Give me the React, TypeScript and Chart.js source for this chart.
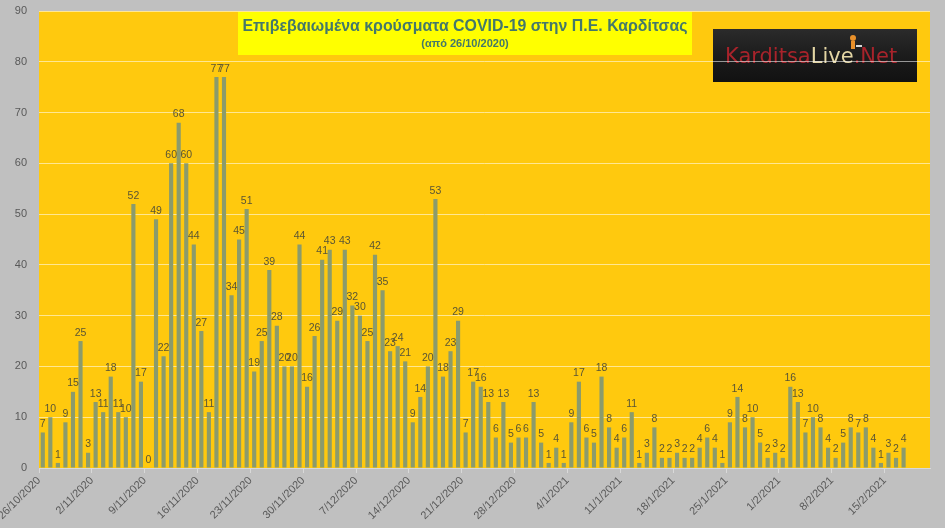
import { useEffect, useRef } from "react"
import { Chart, registerables } from "chart.js"
import type { Plugin } from "chart.js"

Chart.register(...registerables)

// daily confirmed cases, per month, starting 26/10/2020
const START_DATE = new Date(2020, 9, 26)
const CASES_OCT = [7, 10, 1, 9, 15, 25]
const CASES_NOV = [
  3, 13, 11, 18, 11, 10, 52, 17, 0, 49, 22, 60, 68, 60, 44,
  27, 11, 77, 77, 34, 45, 51, 19, 25, 39, 28, 20, 20, 44, 16,
]
const CASES_DEC = [
  26, 41, 43, 29, 43, 32, 30, 25, 42, 35, 23, 24, 21, 9, 14, 20,
  53, 18, 23, 29, 7, 17, 16, 13, 6, 13, 5, 6, 6, 13, 5,
]
const CASES_JAN = [
  1, 4, 1, 9, 17, 6, 5, 18, 8, 4, 6, 11, 1, 3, 8, 2,
  2, 3, 2, 2, 4, 6, 4, 1, 9, 14, 8, 10, 5, 2, 3,
]
const CASES_FEB = [2, 16, 13, 7, 10, 8, 4, 2, 5, 8, 7, 8, 4, 1, 3, 2, 4]
const EMPTY_DAYS_AT_END = 3
const LABEL_EVERY = 7

const TITLE = "Επιβεβαιωμένα κρούσματα COVID-19 στην Π.Ε. Καρδίτσας"
const SUBTITLE = "(από 26/10/2020)"

const CASES = [...CASES_OCT, ...CASES_NOV, ...CASES_DEC, ...CASES_JAN, ...CASES_FEB]
const DAY_LABELS = Array.from({ length: CASES.length + EMPTY_DAYS_AT_END }, (_, i) => {
  const d = new Date(START_DATE)
  d.setDate(d.getDate() + i)
  return `${d.getDate()}/${d.getMonth() + 1}/${d.getFullYear()}`
})

const FONT = "'Liberation Sans', Arial, sans-serif"
const TEXT = "#595959"

const backdrop: Plugin<"bar"> = {
  id: "backdrop",
  beforeDraw(chart) {
    const { ctx, chartArea: a, width, height } = chart
    ctx.save()
    ctx.fillStyle = "#c0c0c0"
    ctx.fillRect(0, 0, width, height)
    ctx.fillStyle = "#ffc90e"
    ctx.fillRect(a.left, a.top, a.right - a.left, a.bottom - a.top)

    // title box
    ctx.fillStyle = "#ffff00"
    ctx.fillRect(238, 12, 454, 43)
    ctx.fillStyle = "#44786a"
    ctx.textAlign = "center"
    ctx.textBaseline = "middle"
    ctx.font = `bold 17px ${FONT}`
    ctx.fillText(TITLE, 465, 26, 445)
    ctx.font = `bold 11px ${FONT}`
    ctx.fillText(SUBTITLE, 465, 44, 95)

    // logo
    const g = ctx.createLinearGradient(0, 29, 0, 82)
    g.addColorStop(0, "#2b2b2b")
    g.addColorStop(0.5, "#1c1c1c")
    g.addColorStop(1, "#111")
    ctx.fillStyle = g
    ctx.fillRect(713, 29, 204, 53)
    ctx.textAlign = "left"
    ctx.textBaseline = "alphabetic"
    ctx.font = "21px 'DejaVu Sans', sans-serif"
    let x = 725
    const parts: [string, string][] = [["Karditsa", "#a8232b"], ["Live", "#e4d6a4"], [".Net", "#a8232b"]]
    for (const [t, c] of parts) {
      ctx.fillStyle = c
      ctx.fillText(t, x, 63, 200)
      x += ctx.measureText(t).width
    }
    ctx.fillStyle = "#e8902a"
    ctx.beginPath()
    ctx.arc(853, 38, 3, 0, Math.PI * 2)
    ctx.fill()
    ctx.fillRect(851, 41, 4, 8)
    ctx.fillStyle = "#d8d8d8"
    ctx.fillRect(856, 45, 6, 2)
    ctx.restore()
  },
}

const valueLabels: Plugin<"bar"> = {
  id: "valueLabels",
  afterDatasetsDraw(chart) {
    const { ctx } = chart
    const meta = chart.getDatasetMeta(0)
    ctx.save()
    ctx.fillStyle = "#5a5535"
    ctx.font = `10.5px ${FONT}`
    ctx.textAlign = "center"
    ctx.textBaseline = "bottom"
    meta.data.forEach((bar, i) => {
      const v = CASES[i]
      if (v == null) return
      ctx.fillText(String(v), bar.x, bar.y - 3)
    })
    ctx.restore()
  },
}

export default function App() {
  const canvasRef = useRef<HTMLCanvasElement>(null)

  useEffect(() => {
    document.body.style.margin = "0"
    if (!canvasRef.current) return
    Chart.defaults.font.family = FONT

    const chart = new Chart(canvasRef.current, {
      type: "bar",
      data: {
        labels: DAY_LABELS,
        datasets: [{
          data: CASES,
          backgroundColor: "#8b9b6c",
          borderWidth: 0,
          barPercentage: 0.55,
          categoryPercentage: 1,
        }],
      },
      options: {
        animation: false,
        responsive: true,
        maintainAspectRatio: false,
        layout: { padding: { top: 11, right: 15, left: 0, bottom: 0 } },
        plugins: { legend: { display: false }, tooltip: { enabled: false } },
        scales: {
          x: {
            offset: true,
            grid: {
              offset: true,
              drawOnChartArea: false,
              drawTicks: true,
              tickLength: 5,
              color: c => (c.index % LABEL_EVERY === 0 ? "#d9d9d9" : "rgba(0,0,0,0)"),
            },
            border: { color: "#d9d9d9" },
            ticks: {
              autoSkip: false,
              minRotation: 45,
              maxRotation: 45,
              labelOffset: -3.8,
              padding: 1,
              color: TEXT,
              font: { size: 11 },
              callback: (_v, i) => (i % LABEL_EVERY === 0 ? DAY_LABELS[i] : ""),
            },
            afterFit: s => { s.height = 60; s.paddingLeft = 0; s.paddingRight = 0 },
          },
          y: {
            min: 0,
            max: 90,
            ticks: { stepSize: 10, padding: 12, color: TEXT, font: { size: 11 } },
            grid: { color: "rgba(255,255,255,0.55)", drawTicks: false },
            border: { display: false },
            afterFit: s => { s.width = 39; s.paddingTop = 0; s.paddingBottom = 0 },
          },
        },
      },
      plugins: [backdrop, valueLabels],
    })

    return () => { chart.destroy() }
  }, [])

  return (
    <div style={{ width: 945, height: 528, position: "relative" }}>
      <canvas ref={canvasRef} />
    </div>
  )
}
